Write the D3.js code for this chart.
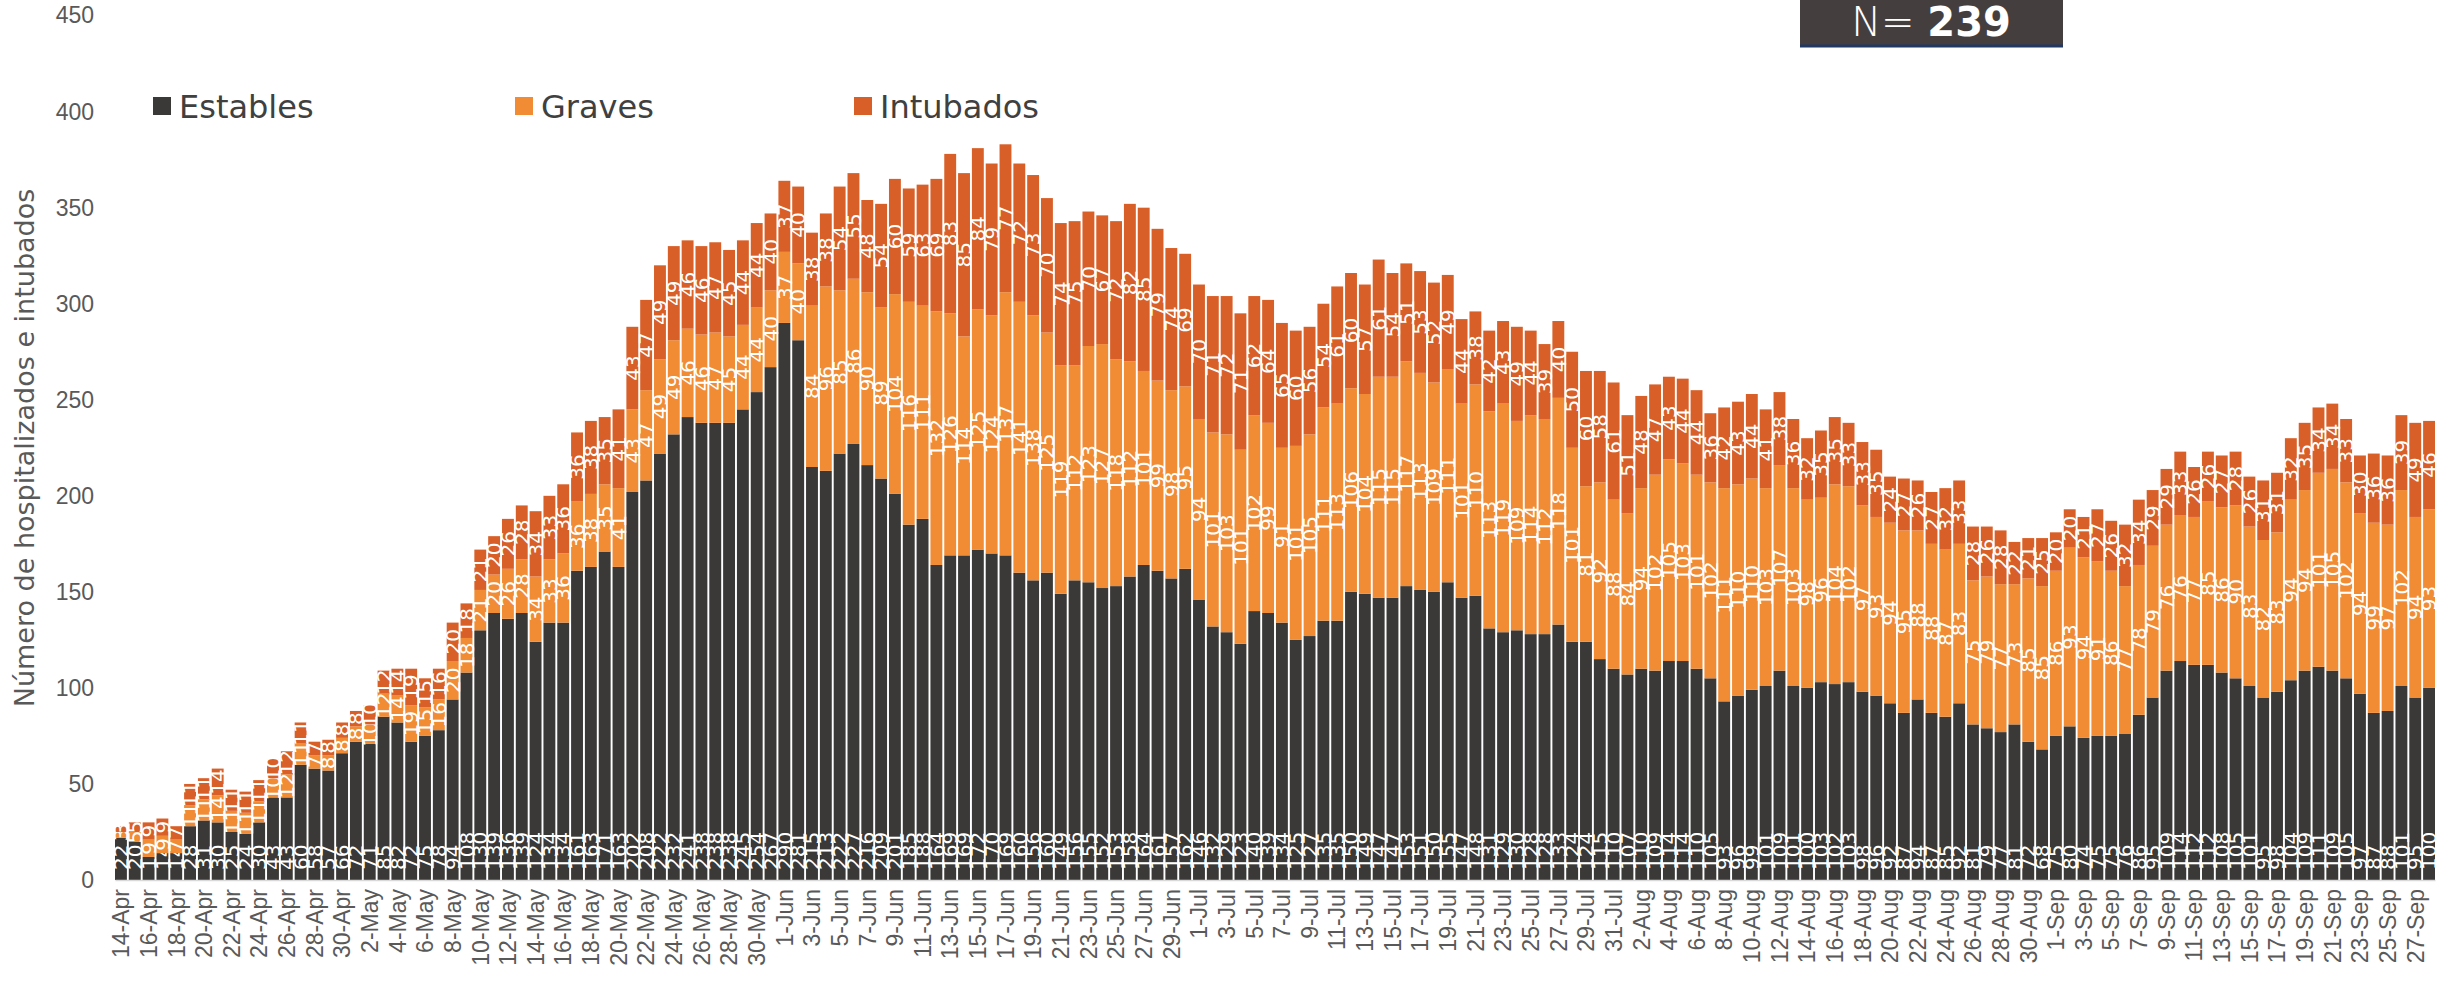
<!DOCTYPE html>
<html>
<head>
<meta charset="utf-8">
<script src="https://cdn.jsdelivr.net/npm/d3@7"></script>
<style>
  body { margin: 0; background: #fff; }
  svg { display: block; font-family: "DejaVu Sans", sans-serif; }
</style>
</head>
<body>
<div id="chart"></div>
<script>
// Days shown on the category axis
const dates = [
  "14-Apr","15-Apr","16-Apr","17-Apr","18-Apr","19-Apr","20-Apr","21-Apr","22-Apr","23-Apr","24-Apr","25-Apr","26-Apr","27-Apr","28-Apr","29-Apr","30-Apr",
  "1-May","2-May","3-May","4-May","5-May","6-May","7-May","8-May","9-May","10-May","11-May","12-May","13-May","14-May","15-May","16-May","17-May","18-May","19-May","20-May","21-May","22-May","23-May","24-May","25-May","26-May","27-May","28-May","29-May","30-May","31-May",
  "1-Jun","2-Jun","3-Jun","4-Jun","5-Jun","6-Jun","7-Jun","8-Jun","9-Jun","10-Jun","11-Jun","12-Jun","13-Jun","14-Jun","15-Jun","16-Jun","17-Jun","18-Jun","19-Jun","20-Jun","21-Jun","22-Jun","23-Jun","24-Jun","25-Jun","26-Jun","27-Jun","28-Jun","29-Jun","30-Jun",
  "1-Jul","2-Jul","3-Jul","4-Jul","5-Jul","6-Jul","7-Jul","8-Jul","9-Jul","10-Jul","11-Jul","12-Jul","13-Jul","14-Jul","15-Jul","16-Jul","17-Jul","18-Jul","19-Jul","20-Jul","21-Jul","22-Jul","23-Jul","24-Jul","25-Jul","26-Jul","27-Jul","28-Jul","29-Jul","30-Jul","31-Jul",
  "1-Aug","2-Aug","3-Aug","4-Aug","5-Aug","6-Aug","7-Aug","8-Aug","9-Aug","10-Aug","11-Aug","12-Aug","13-Aug","14-Aug","15-Aug","16-Aug","17-Aug","18-Aug","19-Aug","20-Aug","21-Aug","22-Aug","23-Aug","24-Aug","25-Aug","26-Aug","27-Aug","28-Aug","29-Aug","30-Aug","31-Aug",
  "1-Sep","2-Sep","3-Sep","4-Sep","5-Sep","6-Sep","7-Sep","8-Sep","9-Sep","10-Sep","11-Sep","12-Sep","13-Sep","14-Sep","15-Sep","16-Sep","17-Sep","18-Sep","19-Sep","20-Sep","21-Sep","22-Sep","23-Sep","24-Sep","25-Sep","26-Sep","27-Sep","28-Sep"
];

const estables = [
  22,20,12,14,14,28,31,30,25,24,30,43,43,60,58,57,66,72,71,85,82,72,75,78,94,108,130,139,
  136,139,124,134,134,161,163,171,163,202,208,222,232,241,
  238,238,238,245,254,267,290,281,215,213,222,227,216,209,
  201,185,188,164,169,169,172,170,169,160,156,160,149,156,
  155,152,153,158,164,161,157,162,146,132,129,123,140,139,
  134,125,127,135,135,150,149,147,147,153,151,150,155,147,
  148,131,129,130,128,128,133,124,124,115,110,107,110,109,
  114,114,110,105,93,96,99,101,109,101,100,103,102,103,
  98,96,92,87,94,87,85,92,81,79,77,81,72,68,
  75,80,74,75,75,76,86,95,109,114,112,112,108,105,
  101,95,98,104,109,111,109,105,97,87,88,101,95,100
];

const graves = [
  3,5,9,9,7,11,11,14,11,11,11,10,12,11,7,8,8,8,10,12,14,19,15,16,20,18,21,20,
  26,28,34,33,36,36,38,35,41,43,47,49,49,46,
  46,47,45,44,44,40,37,40,84,96,85,86,90,89,
  104,116,111,132,126,114,125,124,137,141,138,125,119,112,
  123,127,118,112,101,99,98,95,94,101,103,101,102,99,
  91,101,105,111,113,106,104,115,115,117,113,109,111,101,
  110,113,119,109,114,112,118,101,81,92,88,84,94,102,
  105,103,101,102,111,110,110,103,107,103,98,96,104,102,
  97,93,94,95,88,88,87,83,75,79,77,73,85,85,
  86,93,94,91,86,77,78,79,76,76,77,85,86,90,
  83,82,83,94,94,101,105,102,94,99,97,102,94,93
];

const intubados = [
  3,5,9,9,7,11,11,14,11,11,11,10,12,11,7,8,8,8,10,12,14,19,15,16,20,18,21,20,
  26,28,34,33,36,36,38,35,41,43,47,49,49,46,
  46,47,45,44,44,40,37,40,38,38,54,55,48,54,
  60,59,63,69,83,85,84,79,77,72,73,70,74,75,
  70,67,72,82,85,79,74,69,70,71,72,71,62,64,
  65,60,56,54,61,60,57,61,54,51,53,52,49,44,
  38,42,43,49,44,39,40,50,60,58,61,51,48,47,
  43,44,44,36,42,43,44,41,38,36,32,35,35,33,
  33,35,24,27,26,27,32,33,28,26,28,22,21,25,
  20,20,21,27,26,32,34,29,29,33,26,26,27,28,
  26,31,31,32,35,34,34,33,30,36,36,39,49,46
];

const seriesNames = ["Estables", "Graves", "Intubados"];
const colors = ["#3a3937", "#f18c35", "#d95f28"];
const yTicks = [0, 50, 100, 150, 200, 250, 300, 350, 400, 450];
const totalN = 239;

const width = 2447, height = 981;

const svg = d3.select('#chart')
  .append('svg')
  .attr('width', width)
  .attr('height', height);

const x = d3.scaleBand()
  .domain(dates)
  .range([115, 2435])
  .paddingInner(0.14)
  .paddingOuter(0);

const y = d3.scaleLinear()
  .domain([0, 450])
  .range([880, 15.6]);

// stack the three series
const rows = dates.map((d, i) => ({
  date: d, Estables: estables[i], Graves: graves[i], Intubados: intubados[i]
}));
const stacked = d3.stack().keys(seriesNames)(rows);

// bars
const layers = svg.selectAll('g.layer')
  .data(stacked)
  .enter()
  .append('g')
  .attr('class', 'layer')
  .attr('fill', (d, i) => colors[i]);

layers.selectAll('rect')
  .data(d => d)
  .enter()
  .append('rect')
  .attr('x', d => x(d.data.date))
  .attr('width', x.bandwidth())
  .attr('y', d => y(d[1]))
  .attr('height', d => y(d[0]) - y(d[1]));

// value labels, vertical, white
layers.each(function (layer, li) {
  d3.select(this).selectAll('text')
    .data(layer)
    .enter()
    .append('text')
    .attr('transform', d => {
      const cx = x(d.data.date) + x.bandwidth() / 2;
      const cy = li === 0 ? y(0) - 10 : (y(d[0]) + y(d[1])) / 2;
      return `translate(${cx},${cy}) rotate(-90)`;
    })
    .attr('dy', '0.36em')
    .attr('text-anchor', li === 0 ? 'start' : 'middle')
    .attr('fill', '#fff')
    .attr('font-size', 20)
    .text(d => d[1] - d[0]);
});

// x axis
const xAxis = svg.append('g')
  .attr('transform', 'translate(0,880)')
  .call(d3.axisBottom(x)
    .tickValues(dates.filter((d, i) => i % 2 === 0))
    .tickSize(0));
xAxis.select('.domain').attr('stroke', '#d9d9d9').attr('stroke-width', 1.5);
xAxis.selectAll('text')
  .attr('transform', 'rotate(-90)')
  .attr('x', -9)
  .attr('y', 0)
  .attr('dy', '0.36em')
  .attr('text-anchor', 'end')
  .attr('fill', '#595959')
  .attr('font-size', 23)
  .attr('font-family', null);

// y axis
const yAxis = svg.append('g')
  .attr('transform', 'translate(104,0)')
  .call(d3.axisLeft(y).tickValues(yTicks).tickSize(0).tickPadding(10));
yAxis.select('.domain').remove();
yAxis.selectAll('text')
  .attr('fill', '#595959')
  .attr('font-size', 23)
  .attr('font-family', null);

svg.append('text')
  .attr('transform', 'translate(24,448) rotate(-90)')
  .attr('dy', '0.36em')
  .attr('text-anchor', 'middle')
  .attr('fill', '#595959')
  .attr('font-size', 27)
  .text('Número de hospitalizados e intubados');

// legend
const legendX = [153, 515, 854];
const legend = svg.selectAll('g.legend')
  .data(seriesNames)
  .enter()
  .append('g')
  .attr('class', 'legend')
  .attr('transform', (d, i) => `translate(${legendX[i]},97)`);
legend.append('rect')
  .attr('width', 18).attr('height', 18)
  .attr('fill', (d, i) => colors[i]);
legend.append('text')
  .attr('x', 26).attr('y', 9)
  .attr('dy', '0.36em')
  .attr('fill', '#404040')
  .attr('font-size', 32)
  .text(d => d);

// N box
svg.append('rect')
  .attr('x', 1800).attr('y', -5)
  .attr('width', 263).attr('height', 50)
  .attr('fill', '#443f3e');
svg.append('line')
  .attr('x1', 1800).attr('x2', 2063)
  .attr('y1', 46).attr('y2', 46)
  .attr('stroke', '#1f3864').attr('stroke-width', 3);
const nText = svg.append('text')
  .attr('x', 1931).attr('y', 36)
  .attr('text-anchor', 'middle')
  .attr('fill', '#fff')
  .attr('font-size', 40);
nText.append('tspan').attr('font-weight', 300).text('N= ');
nText.append('tspan').attr('font-weight', 'bold').text(totalN);
</script>
</body>
</html>
